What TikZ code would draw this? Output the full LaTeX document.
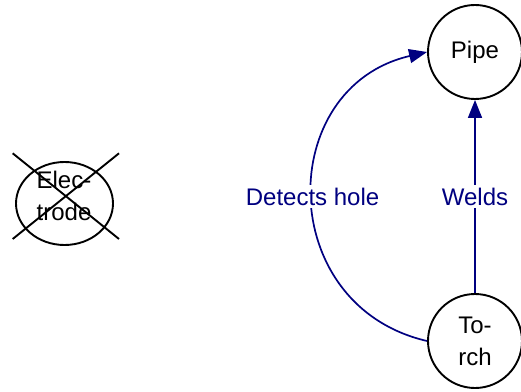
\documentclass[tikz,border=0pt]{standalone}
\usepackage{fontspec}
\setmainfont{Liberation Sans}
\usetikzlibrary{arrows.meta,shapes.geometric}
\definecolor{linkblue}{RGB}{0,0,128}
\begin{document}
\begin{tikzpicture}[x=1pt,y=1pt,
  bigfont/.style={font=\fontsize{24}{32}\selectfont},
  entity/.style={circle,draw=black,line width=1.9pt,minimum size=94pt,
    inner sep=0pt,align=center,bigfont},
  link/.style={draw=linkblue,line width=1.7pt,
    -{Triangle[length=18pt,width=14pt]}},
  linklabel/.style={fill=white,text=linkblue,bigfont,inner sep=3pt},
  crossout/.style={draw=black,line width=1.9pt}]
  \useasboundingbox (0,0) rectangle (521,391);

  % entities
  \node[entity] (pipe)  at (475,339) {Pipe};
  \node[entity] (torch) at (475,50)  {To-\\rch};

  % removed entity: ellipse, its text and the cross over it
  \node[ellipse,draw=black,line width=1.9pt,minimum width=97pt,
        minimum height=83pt,inner sep=0pt] (electrode) at (64.5,187.5) {};
  \node[align=center,bigfont,inner sep=0pt] (electrodetext) at (64,195) {Elec-\\trode};
  \coordinate (xa) at (12.7,237.7);
  \coordinate (xb) at (119,152);
  \coordinate (xc) at (12.7,152);
  \coordinate (xd) at (119,237.7);
  \draw[crossout] (xa) -- (xb);
  \draw[crossout] (xc) -- (xd);

  % relations
  \draw[link] (torch.north) -- (pipe.south)
    node[midway,linklabel] {Welds};
  \draw[link] (torch.west) to[bend left=77,looseness=1.39]
    node[midway,linklabel] {Detects hole} (pipe.west);
\end{tikzpicture}
\end{document}
